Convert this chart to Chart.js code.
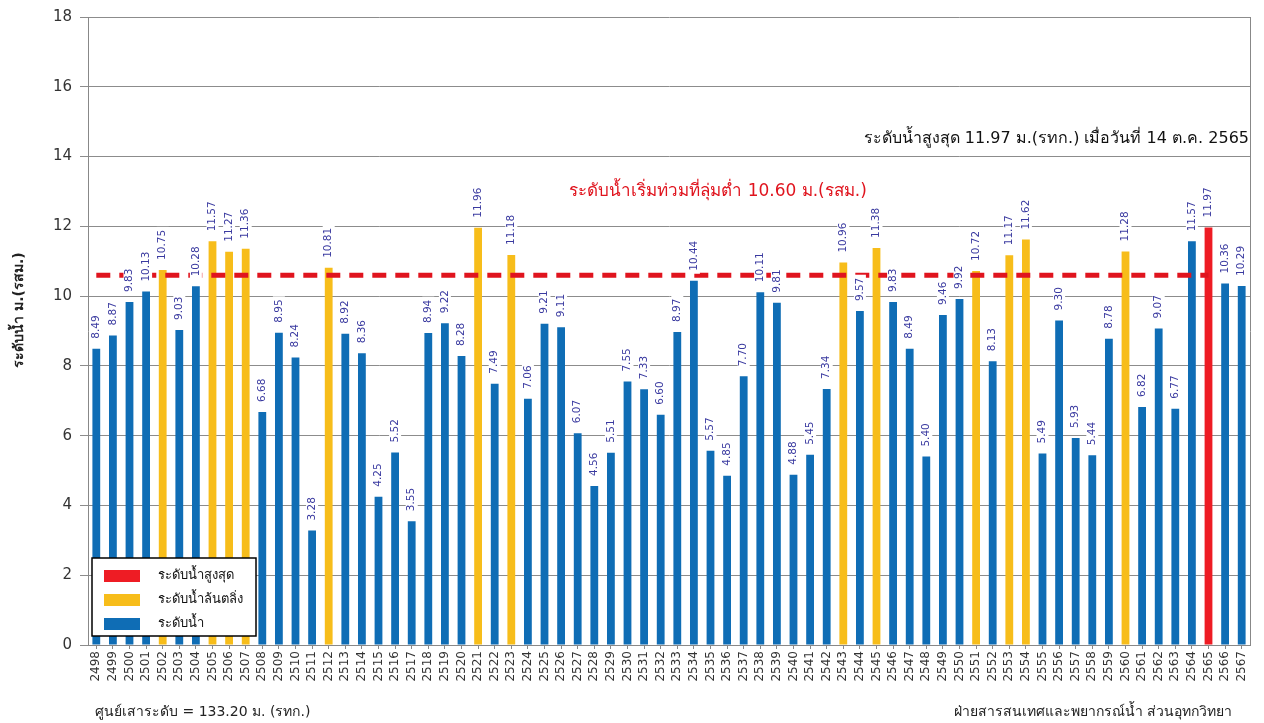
<!DOCTYPE html>
<html lang="th">
<head>
  <meta charset="UTF-8" />
  <title>ระดับน้ำสูงสุดรายปี</title>
  <script src="https://cdn.jsdelivr.net/npm/chart.js"></script>
  <style>
    html, body { margin: 0; padding: 0; background: #fff; }
    #wrap { width: 1264px; height: 723px; }
  </style>
</head>
<body>
  <div id="wrap"><canvas id="grafik"></canvas></div>

  <script>
    // ข้อมูล
    const years = [];
    for (let y = 2498; y <= 2567; y++) years.push(String(y));

    const levels = [
      8.49, 8.87, 9.83, 10.13, 10.75, 9.03, 10.28, 11.57, 11.27, 11.36,
      6.68, 8.95, 8.24, 3.28, 10.81, 8.92, 8.36, 4.25, 5.52, 3.55,
      8.94, 9.22, 8.28, 11.96, 7.49, 11.18, 7.06, 9.21, 9.11, 6.07,
      4.56, 5.51, 7.55, 7.33, 6.60, 8.97, 10.44, 5.57, 4.85, 7.70,
      10.11, 9.81, 4.88, 5.45, 7.34, 10.96, 9.57, 11.38, 9.83, 8.49,
      5.40, 9.46, 9.92, 10.72, 8.13, 11.17, 11.62, 5.49, 9.30, 5.93,
      5.44, 8.78, 11.28, 6.82, 9.07, 6.77, 11.57, 11.97, 10.36, 10.29
    ];

    const overflowYears = ["2502", "2505", "2506", "2507", "2512", "2521", "2523",
                           "2543", "2545", "2551", "2553", "2554", "2560"];
    const peakYear = "2565";
    const floodLevel = 10.60;
    const floodLineEnd = "2565";
    const yTicks = [0, 2, 4, 6, 8, 10, 12, 14, 16, 18];

    const legendItems = [
      { text: "ระดับน้ำสูงสุด", color: "#ee1c24" },
      { text: "ระดับน้ำล้นตลิ่ง", color: "#f7bd1a" },
      { text: "ระดับน้ำ", color: "#0f6db5" }
    ];

    const FONT = "Tahoma, 'DejaVu Sans', 'Noto Sans', sans-serif";

    const barColors = years.map(y =>
      y === peakYear ? "#ee1c24" : (overflowYears.includes(y) ? "#f7bd1a" : "#0f6db5")
    );
    const floodLine = years.map(y => (+y <= +floodLineEnd ? floodLevel : null));

    // ป้ายค่าบนแท่ง + ข้อความประกอบ
    const extras = {
      id: "extras",
      afterDatasetsDraw(chart) {
        const ctx = chart.ctx;
        const meta = chart.getDatasetMeta(1);
        ctx.save();
        ctx.font = "10.5px " + FONT;
        ctx.textBaseline = "middle";
        ctx.textAlign = "left";
        meta.data.forEach((bar, i) => {
          const txt = levels[i].toFixed(2);
          const w = ctx.measureText(txt).width;
          ctx.save();
          ctx.translate(bar.x, bar.y - 10);
          ctx.rotate(-Math.PI / 2);
          ctx.fillStyle = "#fff";
          ctx.fillRect(-3, -6, w + 6, 12);
          ctx.fillStyle = "#3a3aa0";
          ctx.fillText(txt, 0, 0);
          ctx.restore();
        });
        ctx.restore();
      },
      afterDraw(chart) {
        const ctx = chart.ctx;
        const a = chart.chartArea;
        const ys = chart.scales.y;
        ctx.save();

        // ชื่อแกน y
        ctx.save();
        ctx.translate(19, 310);
        ctx.rotate(-Math.PI / 2);
        ctx.font = "bold 14px " + FONT;
        ctx.fillStyle = "#222";
        ctx.textAlign = "center";
        ctx.textBaseline = "middle";
        ctx.fillText("ระดับน้ำ ม.(รสม.)", 0, 0);
        ctx.restore();

        ctx.textBaseline = "middle";
        ctx.font = "16px " + FONT;
        ctx.fillStyle = "#111";
        ctx.textAlign = "right";
        ctx.fillText("ระดับน้ำสูงสุด 11.97 ม.(รทก.) เมื่อวันที่ 14 ต.ค. 2565", a.right - 1, ys.getPixelForValue(14.5));

        ctx.font = "17px " + FONT;
        ctx.fillStyle = "#e0141e";
        ctx.textAlign = "center";
        ctx.fillText("ระดับน้ำเริ่มท่วมที่ลุ่มต่ำ 10.60 ม.(รสม.)", 718, ys.getPixelForValue(13));

        // คำอธิบายสัญลักษณ์
        const lx = 92, ly = 558, lw = 164, lh = 78;
        ctx.fillStyle = "#fff";
        ctx.fillRect(lx, ly, lw, lh);
        ctx.strokeStyle = "#000";
        ctx.lineWidth = 1.5;
        ctx.strokeRect(lx, ly, lw, lh);
        ctx.font = "13px " + FONT;
        ctx.textAlign = "left";
        legendItems.forEach((it, k) => {
          const cy = ly + 18 + k * 24;
          ctx.fillStyle = it.color;
          ctx.fillRect(lx + 12, cy - 6, 36, 12);
          ctx.fillStyle = "#111";
          ctx.fillText(it.text, lx + 66, cy);
        });

        // ข้อความด้านล่าง
        ctx.font = "14px " + FONT;
        ctx.fillStyle = "#222";
        ctx.textAlign = "left";
        ctx.fillText("ศูนย์เสาระดับ = 133.20 ม. (รทก.)", 95, 712);
        ctx.textAlign = "right";
        ctx.fillText("ฝ่ายสารสนเทศและพยากรณ์น้ำ ส่วนอุทกวิทยา", 1232, 712);
        ctx.restore();
      }
    };

    new Chart(document.getElementById("grafik"), {
      data: {
        labels: years,
        datasets: [
          {
            type: "line",
            label: "ระดับน้ำเริ่มท่วมที่ลุ่มต่ำ",
            data: floodLine,
            borderColor: "#e0141e",
            borderWidth: 5,
            borderDash: [14, 9],
            pointRadius: 0,
            fill: false,
            order: 0
          },
          {
            type: "bar",
            label: "ระดับน้ำ",
            data: levels,
            backgroundColor: barColors,
            barPercentage: 0.47,
            categoryPercentage: 1,
            order: 1
          }
        ]
      },
      plugins: [extras],
      options: {
        responsive: true,
        maintainAspectRatio: false,
        animation: false,
        layout: { padding: { top: 15, right: 13, bottom: 0, left: 0 } },
        plugins: {
          legend: { display: false },
          tooltip: { enabled: false }
        },
        scales: {
          x: {
            offset: true,
            grid: { display: true, drawOnChartArea: false, offset: false, tickLength: 4, color: "#888" },
            border: { color: "#888" },
            ticks: {
              autoSkip: false,
              minRotation: 90,
              maxRotation: 90,
              padding: 2,
              color: "#333",
              font: { size: 12, family: FONT }
            },
            afterFit(s) { s.height = 78; }
          },
          y: {
            min: 0,
            max: 18,
            afterBuildTicks(s) { s.ticks = yTicks.map(v => ({ value: v })); },
            grid: { color: "#8c8c8c", tickLength: 8, lineWidth: 1 },
            border: { color: "#888" },
            ticks: {
              padding: 8,
              color: "#333",
              font: { size: 15, family: FONT }
            },
            afterFit(s) { s.width = 88; }
          },
          yr: {
            position: "right",
            min: 0,
            max: 18,
            grid: { display: false },
            border: { color: "#888" },
            ticks: { display: false },
            afterFit(s) { s.width = 1; }
          }
        }
      }
    });
  </script>
</body>
</html>
